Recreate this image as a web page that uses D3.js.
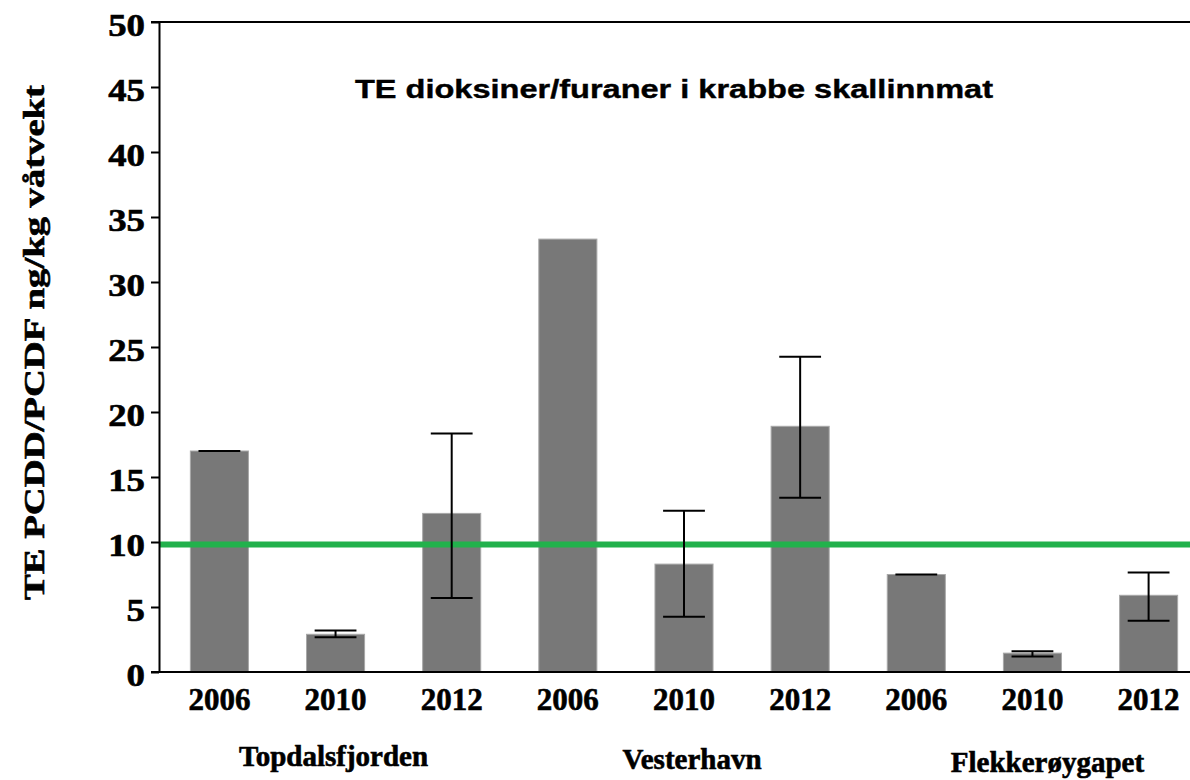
<!DOCTYPE html>
<html>
<head>
<meta charset="utf-8">
<script src="https://cdn.jsdelivr.net/npm/d3@7"></script>
<style>
  html, body { margin: 0; padding: 0; background: #fff; }
  svg { display: block; }
  .serif { font-family: "Liberation Serif", "Times New Roman", serif; font-weight: bold; fill: #000; stroke: #000; stroke-width: 0.6px; }
  .title { font-family: "Liberation Sans", Arial, sans-serif; font-weight: bold; fill: #000; stroke: #000; stroke-width: 0.4px; }
</style>
</head>
<body>
<div id="chart"></div>
<script>
const GROUPS = ["Topdalsfjorden", "Vesterhavn", "Flekkerøygapet"];
const YEARS = ["2006", "2010", "2012"];
const MEANS = [17.0, 2.9, 12.2, 33.3, 8.3, 18.9, 7.5, 1.45, 5.9];
const ERR_LOW = [17.0, 2.67, 5.7, null, 4.25, 13.4, 7.5, 1.2, 3.95];
const ERR_HIGH = [17.0, 3.2, 18.35, null, 12.4, 24.25, 7.5, 1.6, 7.65];
const LIMIT = 9.8;
const Y_TICKS = [0, 5, 10, 15, 20, 25, 30, 35, 40, 45, 50];

const rows = MEANS.map((mean, i) => ({
  key: `${GROUPS[Math.floor(i / 3)]}-${YEARS[i % 3]}`,
  group: GROUPS[Math.floor(i / 3)],
  year: YEARS[i % 3],
  mean,
  low: ERR_LOW[i],
  high: ERR_HIGH[i],
}));

function renderChart() {
  const width = 1190;
  const height = 780;
  const margin = { top: 22, right: -19, bottom: 108, left: 159 };

  const svg = d3.select("#chart").append("svg").attr("width", width).attr("height", height);

  const x = d3
    .scaleBand()
    .domain(rows.map((d) => d.key))
    .range([margin.left, width - margin.right])
    .paddingInner(0.5)
    .paddingOuter(0.27);

  const y = d3
    .scaleLinear()
    .domain([0, 50])
    .range([height - margin.bottom, margin.top]);

  // bars
  svg
    .append("g")
    .selectAll("rect")
    .data(rows)
    .join("rect")
    .attr("x", (d) => x(d.key))
    .attr("width", x.bandwidth())
    .attr("y", (d) => y(d.mean))
    .attr("height", (d) => y(0) - y(d.mean))
    .attr("fill", "#787878")
    .attr("stroke", "#a8a8a8")
    .attr("stroke-width", 1);

  // limit line
  svg
    .append("line")
    .attr("x1", margin.left)
    .attr("x2", width)
    .attr("y1", y(LIMIT))
    .attr("y2", y(LIMIT))
    .attr("stroke", "#22b14c")
    .attr("stroke-width", 6);

  // error bars
  const errRows = rows.filter((d) => d.low !== null);
  const capHalf = x.bandwidth() * 0.36;
  const err = svg.append("g").attr("stroke", "#000").attr("stroke-width", 2);

  err
    .selectAll(".stem")
    .data(errRows)
    .join("line")
    .attr("x1", (d) => x(d.key) + x.bandwidth() / 2)
    .attr("x2", (d) => x(d.key) + x.bandwidth() / 2)
    .attr("y1", (d) => y(d.low))
    .attr("y2", (d) => y(d.high));

  err
    .selectAll(".cap-high")
    .data(errRows)
    .join("line")
    .attr("x1", (d) => x(d.key) + x.bandwidth() / 2 - capHalf)
    .attr("x2", (d) => x(d.key) + x.bandwidth() / 2 + capHalf)
    .attr("y1", (d) => y(d.high))
    .attr("y2", (d) => y(d.high));

  err
    .selectAll(".cap-low")
    .data(errRows.filter((d) => d.low !== d.high))
    .join("line")
    .attr("x1", (d) => x(d.key) + x.bandwidth() / 2 - capHalf)
    .attr("x2", (d) => x(d.key) + x.bandwidth() / 2 + capHalf)
    .attr("y1", (d) => y(d.low))
    .attr("y2", (d) => y(d.low));

  // y axis
  svg
    .append("g")
    .attr("transform", `translate(${margin.left}, 0)`)
    .call(d3.axisLeft(y).tickValues(Y_TICKS).tickSize(8).tickPadding(6).tickSizeOuter(0))
    .call((g) => g.select(".domain").attr("stroke-width", 2))
    .call((g) => g.selectAll(".tick line").attr("stroke-width", 2))
    .call((g) =>
      g
        .selectAll("text")
        .attr("class", "serif")
        .style("font-size", "32px")
        .attr("dy", "0.42em")
        .attr("textLength", (d) => String(d).length * 18.4)
        .attr("lengthAdjust", "spacingAndGlyphs"),
    );

  // top and bottom frame lines
  svg
    .append("line")
    .attr("x1", margin.left - 8)
    .attr("x2", width)
    .attr("y1", y(50))
    .attr("y2", y(50))
    .attr("stroke", "#000")
    .attr("stroke-width", 2);

  svg
    .append("line")
    .attr("x1", margin.left - 8)
    .attr("x2", width)
    .attr("y1", y(0))
    .attr("y2", y(0))
    .attr("stroke", "#000")
    .attr("stroke-width", 2);

  // x axis year labels
  svg
    .append("g")
    .attr("transform", `translate(0, ${y(0)})`)
    .call(d3.axisBottom(x).tickSize(0).tickPadding(16).tickFormat((k) => k.split("-")[1]))
    .call((g) => g.select(".domain").remove())
    .call((g) => g.selectAll("text").attr("class", "serif").style("font-size", "31px"));

  // group labels
  const groupShift = [-2, 8, 15];
  svg
    .append("g")
    .selectAll("text")
    .data(GROUPS)
    .join("text")
    .attr("class", "serif")
    .style("font-size", "29px")
    .attr("text-anchor", "middle")
    .attr("x", (g, i) => x(`${g}-${YEARS[1]}`) + x.bandwidth() / 2 + groupShift[i])
    .attr("y", (g, i) => 766 + i * 3)
    .text((g) => g);

  // y label
  svg
    .append("text")
    .attr("class", "serif")
    .style("font-size", "30px")
    .attr("transform", "rotate(-90)")
    .attr("x", -((85 + 600) / 2))
    .attr("y", 44)
    .attr("text-anchor", "middle")
    .attr("textLength", 515)
    .attr("lengthAdjust", "spacingAndGlyphs")
    .text("TE PCDD/PCDF ng/kg våtvekt");

  // title
  svg
    .append("text")
    .attr("class", "title")
    .style("font-size", "25px")
    .attr("x", 674)
    .attr("y", 98)
    .attr("text-anchor", "middle")
    .attr("textLength", 638)
    .attr("lengthAdjust", "spacingAndGlyphs")
    .text("TE dioksiner/furaner i krabbe skallinnmat");
}

renderChart();
</script>
</body>
</html>
